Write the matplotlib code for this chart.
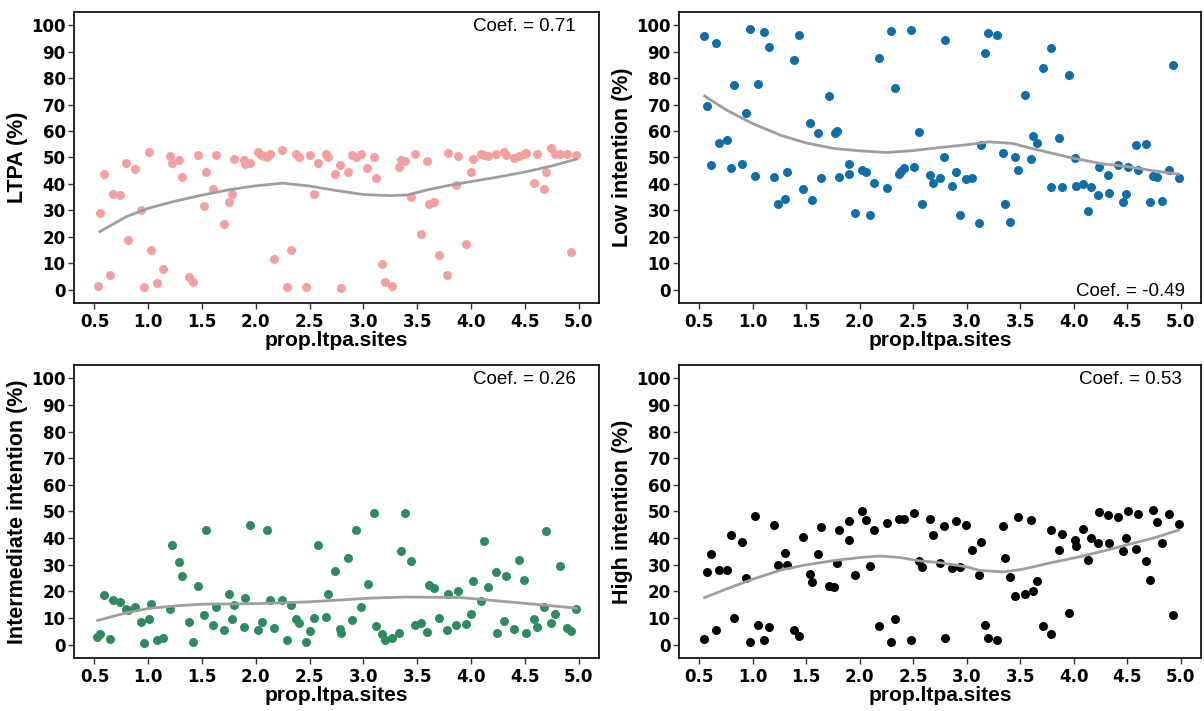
import matplotlib
matplotlib.use("Agg")
import matplotlib.pyplot as plt

plt.rcParams['font.family'] = ['Liberation Sans', 'DejaVu Sans']

# ---------------- data ----------------
x_ltpa = [0.53, 0.55, 0.59, 0.64, 0.67, 0.74, 0.79, 0.81, 0.88, 0.93, 0.96, 1.01, 1.03, 1.08, 1.14,
          1.20, 1.22, 1.29, 1.31, 1.38, 1.42, 1.46, 1.52, 1.54, 1.60, 1.63, 1.70, 1.75, 1.78, 1.80,
          1.89, 1.90, 1.95, 2.02, 2.05, 2.08, 2.10, 2.13, 2.17, 2.24, 2.29, 2.33, 2.37, 2.40, 2.47,
          2.50, 2.54, 2.58, 2.65, 2.67, 2.74, 2.78, 2.79, 2.86, 2.89, 2.93, 2.98, 3.03, 3.10, 3.12,
          3.17, 3.20, 3.27, 3.33, 3.35, 3.39, 3.44, 3.48, 3.54, 3.59, 3.61, 3.66, 3.70, 3.78, 3.79,
          3.86, 3.88, 3.95, 4.00, 4.02, 4.09, 4.12, 4.16, 4.23, 4.31, 4.33, 4.40, 4.45, 4.49, 4.51,
          4.59, 4.61, 4.68, 4.70, 4.74, 4.78, 4.83, 4.89, 4.93, 4.98]
y_ltpa = [1.6, 29, 43.6, 5.4, 36.3, 35.7, 47.9, 18.7, 45.5, 30, 1.1, 51.9, 14.9, 2.6, 8.0,
          50.4, 48.1, 49.2, 42.5, 4.9, 3.0, 50.8, 31.8, 44.4, 38, 50.8, 25, 33, 36.1, 49.4,
          49.2, 47.7, 47.9, 52, 50.9, 50.4, 50.3, 51.3, 11.5, 52.8, 1.1, 15.2, 51.4, 50.3, 1.1,
          50.9, 36.1, 48, 51.5, 50.3, 43.7, 47.1, 0.5, 44.7, 50.8, 50.3, 51.3, 46.1, 50.3, 42.1,
          9.9, 3.1, 1.3, 46.4, 49.2, 48.5, 35, 51.3, 20.9, 48.6, 32.3, 33.3, 13, 5.6, 51.6,
          39.5, 50.5, 17.2, 44.5, 49.4, 51.5, 50.9, 50.5, 51.3, 52.1, 50.9, 49.7, 50.6, 51.3, 51.6,
          40.2, 51.3, 38, 44.5, 53.6, 51.4, 51.5, 51.5, 14.2, 50.9]

x_low = [0.54, 0.57, 0.61, 0.655, 0.68, 0.76, 0.80, 0.82, 0.90, 0.94, 0.97, 1.02, 1.05, 1.10, 1.15,
         1.20, 1.235, 1.30, 1.32, 1.385, 1.435, 1.47, 1.53, 1.55, 1.61, 1.64, 1.71, 1.77, 1.79, 1.81,
         1.90, 1.90, 1.96, 2.02, 2.06, 2.10, 2.13, 2.18, 2.25, 2.295, 2.33, 2.37, 2.39, 2.41, 2.475,
         2.51, 2.55, 2.58, 2.66, 2.68, 2.75, 2.79, 2.80, 2.865, 2.90, 2.94, 2.99, 3.045, 3.11, 3.13,
         3.175, 3.20, 3.28, 3.335, 3.36, 3.40, 3.45, 3.48, 3.545, 3.60, 3.62, 3.66, 3.71, 3.785, 3.79,
         3.86, 3.89, 3.96, 4.01, 4.02, 4.09, 4.13, 4.16, 4.23, 4.24, 4.32, 4.33, 4.41, 4.46, 4.49,
         4.51, 4.58, 4.60, 4.68, 4.71, 4.74, 4.78, 4.83, 4.89, 4.93, 4.98]
y_low = [96, 69.3, 47, 93.4, 55.3, 56.5, 45.9, 77.3, 47.7, 66.7, 98.6, 43, 77.8, 97.5, 91.9,
         42.6, 32.6, 34.5, 44.7, 86.8, 96.4, 38, 62.9, 33.8, 59.3, 42.1, 73.2, 59.4, 59.9, 42.5,
         47.4, 43.6, 29.2, 45.1, 44.7, 28.1, 40.2, 87.6, 38.3, 97.9, 76.2, 43.7, 45, 46.1, 98.1,
         46.5, 59.6, 32.6, 43.4, 40.5, 42.1, 50.3, 94.5, 39.2, 44.7, 28.1, 41.7, 42.1, 25.4, 54.6,
         89.6, 96.9, 96.4, 51.6, 32.3, 25.8, 50.1, 45.1, 73.6, 49.4, 58.1, 55.5, 83.8, 91.5, 38.7,
         57.4, 38.7, 81.3, 49.7, 39.2, 40.1, 29.6, 38.7, 35.7, 46.4, 43.4, 36.5, 47.1, 33.3, 36.1,
         46.4, 54.6, 45.1, 55, 33.1, 43, 42.6, 33.5, 45.2, 85, 42.1]

x_mid = [0.525, 0.55, 0.59, 0.64, 0.67, 0.74, 0.79, 0.81, 0.88, 0.93, 0.96, 1.01, 1.03, 1.08, 1.14,
         1.20, 1.22, 1.29, 1.31, 1.38, 1.42, 1.46, 1.52, 1.54, 1.60, 1.63, 1.70, 1.75, 1.78, 1.80,
         1.89, 1.90, 1.95, 2.02, 2.06, 2.10, 2.13, 2.17, 2.24, 2.29, 2.33, 2.37, 2.40, 2.47,
         2.50, 2.54, 2.58, 2.65, 2.67, 2.74, 2.78, 2.79, 2.86, 2.89, 2.93, 2.98, 3.04, 3.10, 3.12,
         3.17, 3.20, 3.27, 3.33, 3.35, 3.39, 3.44, 3.48, 3.54, 3.59, 3.61, 3.66, 3.70, 3.78, 3.79,
         3.86, 3.88, 3.95, 4.00, 4.02, 4.09, 4.12, 4.16, 4.23, 4.24, 4.31, 4.33, 4.40, 4.45, 4.49,
         4.51, 4.59, 4.61, 4.68, 4.70, 4.74, 4.78, 4.83, 4.89, 4.93, 4.98]
y_mid = [2.9, 4.1, 18.5, 2, 16.8, 16, 13.5, 13, 14, 8.6, 0.8, 9.6, 15.2, 1.6, 2.4,
         13.5, 37.6, 31.1, 25.8, 8.6, 1.1, 22, 11, 43.2, 7.3, 14.3, 5.4, 19, 9.6, 14.8,
         6.5, 17.4, 44.9, 5.4, 8.6, 43.2, 16.8, 6.1, 16.8, 1.6, 14.8, 9.8, 8, 0.9,
         5, 10, 37.6, 10.3, 19, 27.8, 5.8, 4.5, 32.7, 9.3, 43.2, 14.2, 22.8, 49.4, 7,
         3.9, 1.6, 2.5, 4.4, 35, 49.4, 31.5, 7.4, 8.3, 4.6, 22.3, 21.1, 10, 5.4, 19,
         7.4, 20.3, 7.6, 11.5, 24, 16.4, 39.1, 21.6, 27.1, 4.3, 8.9, 25.8, 6, 31.8, 24.3,
         4.3, 9.5, 6.6, 14, 42.6, 8, 11.4, 29.7, 6.1, 5.1, 13.3]

x_high = [0.54, 0.57, 0.61, 0.655, 0.68, 0.76, 0.80, 0.82, 0.90, 0.94, 0.97, 1.02, 1.05, 1.10, 1.15,
          1.20, 1.235, 1.30, 1.32, 1.385, 1.435, 1.47, 1.53, 1.55, 1.61, 1.64, 1.71, 1.76, 1.79, 1.81,
          1.90, 1.90, 1.96, 2.02, 2.06, 2.10, 2.13, 2.18, 2.25, 2.295, 2.33, 2.37, 2.41, 2.475,
          2.51, 2.55, 2.58, 2.66, 2.68, 2.75, 2.79, 2.80, 2.865, 2.90, 2.94, 2.99, 3.045, 3.11, 3.13,
          3.175, 3.20, 3.28, 3.335, 3.36, 3.40, 3.45, 3.48, 3.545, 3.60, 3.62, 3.66, 3.71, 3.785, 3.79,
          3.86, 3.89, 3.96, 4.01, 4.02, 4.09, 4.13, 4.16, 4.23, 4.24, 4.32, 4.33, 4.41, 4.46, 4.49,
          4.51, 4.58, 4.60, 4.68, 4.71, 4.74, 4.78, 4.83, 4.89, 4.93, 4.98]
y_high = [2, 27.1, 34.2, 5.4, 28.1, 28.1, 41.1, 9.9, 38.6, 25.1, 1.1, 48.2, 7.3, 1.6, 6.6,
          44.9, 30.1, 34.6, 30.1, 5.4, 3.1, 40.6, 26.6, 23.7, 34.2, 44, 22.2, 21.7, 30.5, 43,
          46.4, 39.2, 26.2, 50.1, 46.7, 29.6, 43.2, 6.9, 45.6, 1.1, 9.5, 47, 47, 1.6,
          49.4, 31.3, 29.2, 47.1, 41.1, 30.8, 44.5, 2.4, 28.8, 46.6, 29.3, 44.9, 35.7, 26.2, 38.7,
          7.3, 2.4, 1.8, 44.5, 32.6, 25.3, 18.2, 48, 18.9, 46.7, 20.2, 23.9, 6.9, 3.9, 43.2,
          35.7, 41.4, 11.8, 39.2, 37.1, 43.6, 31.8, 40.2, 38, 49.7, 48.7, 38.3, 47.9, 35, 40.1,
          50, 36.1, 48.9, 31.5, 24.3, 50.4, 45.9, 38, 49, 11.2, 45.2]

# smooth (loess) curves
cx_ltpa = [0.55, 0.8, 1.0, 1.25, 1.5, 1.75, 2.0, 2.25, 2.5, 2.75, 3.0, 3.25, 3.4, 3.6, 3.8, 4.0, 4.25, 4.5, 4.75, 4.98]
cy_ltpa = [22, 27.7, 30.8, 33.5, 35.8, 37.8, 39.3, 40.3, 39.2, 37.5, 36.0, 35.6, 35.8, 37.8, 39.5, 40.9, 42.6, 44.5, 46.8, 49.4]
cx_low = [0.55, 0.76, 1.0, 1.26, 1.5, 1.76, 2.0, 2.25, 2.5, 2.75, 3.0, 3.21, 3.43, 3.61, 3.83, 4.0, 4.26, 4.51, 4.76, 4.98]
cy_low = [73.2, 67.8, 62.8, 58.4, 55.5, 53.4, 52.5, 51.9, 52.6, 53.8, 54.8, 55.9, 55.3, 53.4, 51.3, 49.7, 47.7, 46.5, 44.9, 43.7]
cx_mid = [0.53, 0.8, 1.0, 1.27, 1.5, 2.0, 2.5, 3.08, 3.4, 3.9, 4.15, 4.59, 4.98]
cy_mid = [9.1, 12.0, 13.6, 14.6, 15.2, 15.4, 16.1, 17.5, 17.9, 17.7, 16.8, 15.2, 13.7]
cx_high = [0.55, 0.76, 1.0, 1.26, 1.5, 1.76, 2.0, 2.19, 2.38, 2.55, 2.75, 3.0, 3.12, 3.34, 3.52, 3.77, 4.02, 4.26, 4.51, 4.76, 4.98]
cy_high = [17.7, 21.0, 24.6, 28.0, 30.0, 31.6, 32.7, 33.3, 32.7, 31.5, 30.8, 29.2, 27.9, 27.3, 28.3, 30.6, 32.7, 35.0, 37.6, 40.2, 43.0]

ylabels = ["LTPA (%)", "Low intention (%)", "Intermediate intention (%)", "High intention (%)"]
coef_labels = ["Coef. = 0.71", "Coef. = -0.49", "Coef. = 0.26", "Coef. = 0.53"]
colors = ["#F4A0A0", "#0E6EA8", "#2E8B60", "#000000"]
xticks = [0.5, 1.0, 1.5, 2.0, 2.5, 3.0, 3.5, 4.0, 4.5, 5.0]
yticks = [0, 10, 20, 30, 40, 50, 60, 70, 80, 90, 100]
xlabel = "prop.ltpa.sites"

# ---------------- figure ----------------
W, H = 1204, 711
fig = plt.figure(figsize=(W / 100, H / 100), dpi=100)

def px_axes(l, t, r, b):
    return fig.add_axes([l / W, 1 - b / H, (r - l) / W, (b - t) / H])

boxes = [(74, 12, 599, 303), (679, 12, 1201, 303), (74, 365, 599, 658), (679, 365, 1201, 658)]
series = [(x_ltpa, y_ltpa, cx_ltpa, cy_ltpa), (x_low, y_low, cx_low, cy_low),
          (x_mid, y_mid, cx_mid, cy_mid), (x_high, y_high, cx_high, cy_high)]
coef_pos = [(0.956, 0.978, 'top'), (0.970, 0.012, 'bottom'), (0.956, 0.978, 'top'), (0.963, 0.978, 'top')]

tick_font = dict(family='DejaVu Sans', weight='bold', size=12)

for i, ax_box in enumerate(boxes):
    ax = px_axes(*ax_box)
    xs, ys, cxs, cys = series[i]
    ax.scatter(xs, ys, s=42, color=colors[i], marker='o', linewidths=0, zorder=3)
    ax.plot(cxs, cys, color="#9E9E9E", lw=2, zorder=4)
    ax.set_xlim(0.31, 5.19)
    ax.set_ylim(-5, 105)
    ax.set_xticks(xticks)
    ax.set_xticklabels([f"{v:.1f}" for v in xticks], fontdict=tick_font)
    ax.set_yticks(yticks)
    ax.set_yticklabels([str(v) for v in yticks], fontdict=tick_font)
    ax.tick_params(direction='out', length=4, width=1, colors='#333333', labelcolor='black', pad=2)
    ax.tick_params(axis='x', pad=3)
    for sp in ax.spines.values():
        sp.set_color('black')
        sp.set_linewidth(1.2)
    ax.set_xlabel(xlabel, fontsize=15, fontweight='bold', labelpad=0)
    ax.set_ylabel(ylabels[i], fontsize=15.5, fontweight='bold', labelpad=2)
    tx, ty, va = coef_pos[i]
    ax.text(tx, ty, coef_labels[i], transform=ax.transAxes, ha='right', va=va, fontsize=13.5)

fig.savefig("out.png", dpi=100)
